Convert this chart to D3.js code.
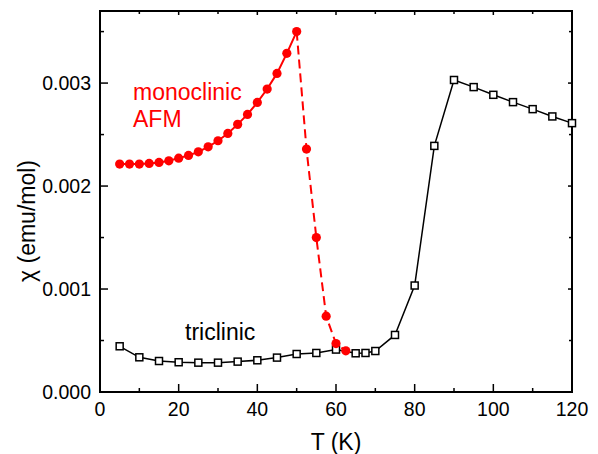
<!DOCTYPE html>
<html>
<head>
<meta charset="utf-8">
<script src="https://cdn.jsdelivr.net/npm/d3@7"></script>
<style>
  body { margin: 0; background: #fff; }
  svg text { font-family: "Liberation Sans", Arial, sans-serif; }
</style>
</head>
<body>
<svg id="chart" width="598" height="454"></svg>
<script>
// monoclinic AFM, solid part (5 - 50 K)
var monoT = [5, 7.5, 10, 12.5, 15, 17.5, 20, 22.5, 25, 27.5, 30, 32.5, 35, 37.5, 40, 42.5, 45, 47.5, 50];
var monoChi = [0.002213, 0.002213, 0.002213, 0.00222, 0.002229, 0.002245, 0.002271, 0.002297, 0.002332, 0.002381,
               0.00244, 0.002511, 0.002599, 0.002696, 0.002812, 0.002942, 0.003094, 0.003289, 0.0035];
// monoclinic, dashed drop after transition
var dropT = [50, 52.5, 55, 57.5, 60, 62.5];
var dropChi = [0.0035, 0.002359, 0.0015, 0.000736, 0.00047, 0.0004];
// triclinic
var triT = [5, 10, 15, 20, 25, 30, 35, 40, 45, 50, 55, 60, 65, 67.5, 70, 75, 80, 85, 90, 95, 100, 105, 110, 115, 120];
var triChi = [0.000444, 0.000337, 0.000301, 0.000289, 0.000285, 0.000285, 0.000295, 0.000308, 0.000334, 0.000369,
              0.000379, 0.000412, 0.000376, 0.000379, 0.000398, 0.000554, 0.001034, 0.00239, 0.00303, 0.002961,
              0.002886, 0.002815, 0.002747, 0.002676, 0.002611];

var xMajor = [0, 20, 40, 60, 80, 100, 120];
var xMinor = [10, 30, 50, 70, 90, 110];
var yMajor = [0, 0.001, 0.002, 0.003];
var yMinor = [0.0005, 0.0015, 0.0025, 0.0035];

var L = 100, R = 572, T = 11, B = 392;

var svg = d3.select("#chart");
var x = d3.scaleLinear().domain([0, 120]).range([L, R]);
var y = d3.scaleLinear().domain([0, 0.0037]).range([B, T]);

// ticks (all inward)
var g = svg.append("g").attr("stroke", "#000").attr("stroke-width", 1.5);
xMajor.forEach(function(v){
  g.append("line").attr("x1", x(v)).attr("x2", x(v)).attr("y1", B).attr("y2", B - 8);
  g.append("line").attr("x1", x(v)).attr("x2", x(v)).attr("y1", T).attr("y2", T + 4);
});
xMinor.forEach(function(v){
  g.append("line").attr("x1", x(v)).attr("x2", x(v)).attr("y1", B).attr("y2", B - 4);
  g.append("line").attr("x1", x(v)).attr("x2", x(v)).attr("y1", T).attr("y2", T + 3);
});
yMajor.forEach(function(v){
  g.append("line").attr("y1", y(v)).attr("y2", y(v)).attr("x1", L).attr("x2", L + 8);
  g.append("line").attr("y1", y(v)).attr("y2", y(v)).attr("x1", R).attr("x2", R - 4);
});
yMinor.forEach(function(v){
  g.append("line").attr("y1", y(v)).attr("y2", y(v)).attr("x1", L).attr("x2", L + 4);
  g.append("line").attr("y1", y(v)).attr("y2", y(v)).attr("x1", R).attr("x2", R - 3);
});

// frame
svg.append("rect").attr("x", L).attr("y", T).attr("width", R - L).attr("height", B - T)
  .attr("fill", "none").attr("stroke", "#000").attr("stroke-width", 2);

// tick labels
svg.selectAll(".xl").data(xMajor).enter().append("text")
  .attr("x", function(d){ return x(d); }).attr("y", 416)
  .attr("text-anchor", "middle").attr("font-size", 19.5)
  .text(function(d){ return d; });
svg.selectAll(".yl").data(yMajor).enter().append("text")
  .attr("x", 91).attr("y", function(d){ return y(d) + 7; })
  .attr("text-anchor", "end").attr("font-size", 19.5)
  .text(function(d){ return d3.format(".3f")(d); });

// axis titles
svg.append("text").attr("x", (L + R) / 2).attr("y", 450).attr("text-anchor", "middle")
  .attr("font-size", 23).text("T (K)");
svg.append("text").attr("transform", "translate(35,221) rotate(-90)").attr("text-anchor", "middle")
  .attr("font-size", 23).text("χ  (emu/mol)");

var line = d3.line().x(function(d){ return x(d[0]); }).y(function(d){ return y(d[1]); });
var tri = d3.zip(triT, triChi);
var mono = d3.zip(monoT, monoChi);
var drop = d3.zip(dropT, dropChi);

svg.append("path").datum(tri).attr("d", line).attr("fill", "none").attr("stroke", "#000").attr("stroke-width", 1.5);
svg.append("path").datum(mono).attr("d", line).attr("fill", "none").attr("stroke", "#ff0000").attr("stroke-width", 2);
svg.append("path").datum(drop).attr("d", line).attr("fill", "none").attr("stroke", "#ff0000")
  .attr("stroke-width", 2).attr("stroke-dasharray", "9,5");

svg.selectAll(".sq").data(tri).enter().append("rect")
  .attr("x", function(d){ return x(d[0]) - 3.5; }).attr("y", function(d){ return y(d[1]) - 3.5; })
  .attr("width", 7).attr("height", 7)
  .attr("fill", "#fff").attr("stroke", "#000").attr("stroke-width", 1.5);

svg.selectAll(".dot").data(mono.concat(drop.slice(1))).enter().append("circle")
  .attr("cx", function(d){ return x(d[0]); }).attr("cy", function(d){ return y(d[1]); })
  .attr("r", 4.6).attr("fill", "#ff0000");

// labels
svg.append("text").attr("x", 133).attr("y", 99.5).attr("font-size", 23).attr("fill", "#ff0000").text("monoclinic");
svg.append("text").attr("x", 133).attr("y", 127).attr("font-size", 23).attr("fill", "#ff0000").text("AFM");
svg.append("text").attr("x", 185).attr("y", 340).attr("font-size", 23).attr("fill", "#000").text("triclinic");
</script>
</body>
</html>
